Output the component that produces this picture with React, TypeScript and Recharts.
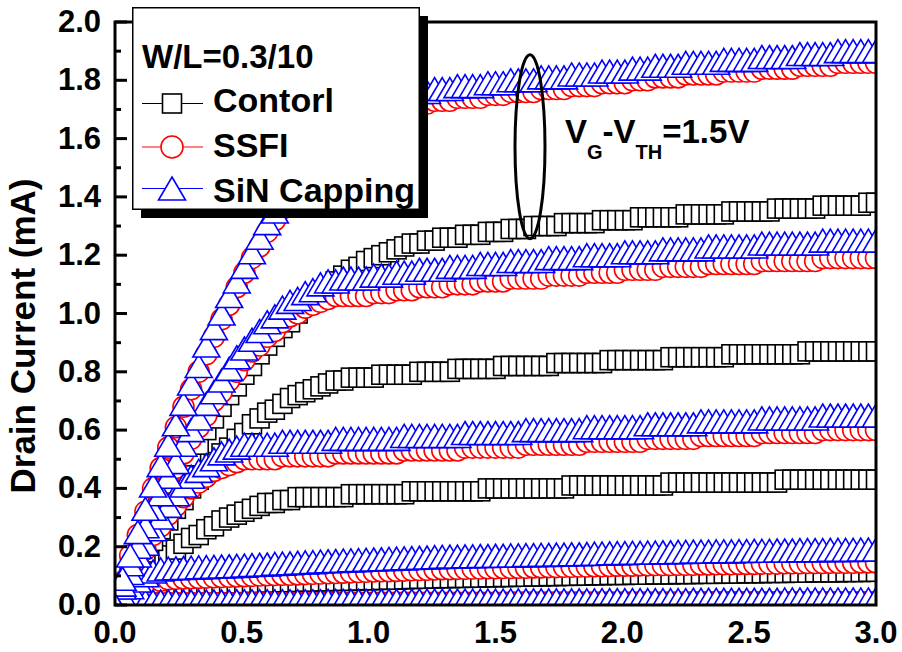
import React from 'react';
import { LineChart, Line, XAxis, YAxis, ReferenceArea, ReferenceDot, Legend } from 'recharts';

const FONT = '"Liberation Sans", Arial, Helvetica, sans-serif';

// drain voltage (V) sweep
const vd = [
  0, 0.03, 0.06, 0.09, 0.12, 0.15, 0.18, 0.21, 0.24, 0.27,
  0.3, 0.33, 0.36, 0.39, 0.42, 0.45, 0.48, 0.51, 0.54, 0.57,
  0.6, 0.63, 0.66, 0.69, 0.72, 0.75, 0.78, 0.81, 0.84, 0.87,
  0.9, 0.93, 0.96, 0.99, 1.02, 1.05, 1.08, 1.11, 1.14, 1.17,
  1.2, 1.23, 1.26, 1.29, 1.32, 1.35, 1.38, 1.41, 1.44, 1.47,
  1.5, 1.53, 1.56, 1.59, 1.62, 1.65, 1.68, 1.71, 1.74, 1.77,
  1.8, 1.83, 1.86, 1.89, 1.92, 1.95, 1.98, 2.01, 2.04, 2.07,
  2.1, 2.13, 2.16, 2.19, 2.22, 2.25, 2.28, 2.31, 2.34, 2.37,
  2.4, 2.43, 2.46, 2.49, 2.52, 2.55, 2.58, 2.61, 2.64, 2.67,
  2.7, 2.73, 2.76, 2.79, 2.82, 2.85, 2.88, 2.91, 2.94, 2.97,
  3.0,
];

// Control (black squares), mA
const control1 = [
  0, 0.06, 0.11, 0.17, 0.22, 0.27, 0.32, 0.37, 0.42, 0.47,
  0.51, 0.55, 0.60, 0.64, 0.68, 0.72, 0.75, 0.79, 0.82, 0.86,
  0.89, 0.92, 0.95, 0.97, 1.00, 1.03, 1.05, 1.07, 1.09, 1.11,
  1.13, 1.15, 1.16, 1.18, 1.19, 1.20, 1.21, 1.22, 1.23, 1.24,
  1.24, 1.25, 1.25, 1.26, 1.26, 1.26, 1.27, 1.27, 1.27, 1.28,
  1.28, 1.28, 1.29, 1.29, 1.29, 1.30, 1.30, 1.30, 1.30, 1.31,
  1.31, 1.31, 1.31, 1.31, 1.32, 1.32, 1.32, 1.32, 1.32, 1.33,
  1.33, 1.33, 1.33, 1.33, 1.33, 1.34, 1.34, 1.34, 1.34, 1.34,
  1.34, 1.35, 1.35, 1.35, 1.35, 1.35, 1.35, 1.36, 1.36, 1.36,
  1.36, 1.36, 1.36, 1.37, 1.37, 1.37, 1.37, 1.37, 1.37, 1.38,
  1.38,
];
const control2 = [
  0, 0.05, 0.09, 0.13, 0.18, 0.22, 0.26, 0.29, 0.33, 0.36,
  0.40, 0.43, 0.46, 0.49, 0.52, 0.54, 0.57, 0.59, 0.62, 0.64,
  0.66, 0.67, 0.69, 0.71, 0.72, 0.73, 0.74, 0.75, 0.76, 0.77,
  0.77, 0.78, 0.78, 0.78, 0.78, 0.79, 0.79, 0.79, 0.79, 0.79,
  0.80, 0.80, 0.80, 0.80, 0.80, 0.81, 0.81, 0.81, 0.81, 0.81,
  0.81, 0.82, 0.82, 0.82, 0.82, 0.82, 0.82, 0.82, 0.83, 0.83,
  0.83, 0.83, 0.83, 0.83, 0.83, 0.84, 0.84, 0.84, 0.84, 0.84,
  0.84, 0.84, 0.84, 0.85, 0.85, 0.85, 0.85, 0.85, 0.85, 0.85,
  0.85, 0.86, 0.86, 0.86, 0.86, 0.86, 0.86, 0.86, 0.86, 0.86,
  0.86, 0.87, 0.87, 0.87, 0.87, 0.87, 0.87, 0.87, 0.87, 0.87,
  0.87,
];
const control3 = [
  0, 0.03, 0.05, 0.08, 0.10, 0.13, 0.15, 0.17, 0.19, 0.21,
  0.23, 0.24, 0.26, 0.27, 0.29, 0.30, 0.31, 0.32, 0.33, 0.34,
  0.35, 0.35, 0.36, 0.36, 0.37, 0.37, 0.37, 0.37, 0.37, 0.37,
  0.37, 0.38, 0.38, 0.38, 0.38, 0.38, 0.38, 0.38, 0.38, 0.39,
  0.39, 0.39, 0.39, 0.39, 0.39, 0.39, 0.39, 0.39, 0.39, 0.40,
  0.40, 0.40, 0.40, 0.40, 0.40, 0.40, 0.40, 0.40, 0.40, 0.40,
  0.41, 0.41, 0.41, 0.41, 0.41, 0.41, 0.41, 0.41, 0.41, 0.41,
  0.41, 0.41, 0.41, 0.42, 0.42, 0.42, 0.42, 0.42, 0.42, 0.42,
  0.42, 0.42, 0.42, 0.42, 0.42, 0.42, 0.42, 0.42, 0.43, 0.43,
  0.43, 0.43, 0.43, 0.43, 0.43, 0.43, 0.43, 0.43, 0.43, 0.43,
  0.43,
];
const control4 = [
  0, 0.013, 0.025, 0.036, 0.045, 0.053, 0.059, 0.064, 0.067, 0.069,
  0.070, 0.071, 0.072, 0.072, 0.073, 0.074, 0.074, 0.075, 0.076, 0.076,
  0.077, 0.077, 0.078, 0.078, 0.079, 0.080, 0.080, 0.081, 0.081, 0.082,
  0.083, 0.083, 0.084, 0.085, 0.085, 0.086, 0.087, 0.087, 0.088, 0.089,
  0.090, 0.090, 0.091, 0.092, 0.092, 0.093, 0.093, 0.094, 0.094, 0.095,
  0.095, 0.096, 0.096, 0.097, 0.097, 0.098, 0.098, 0.099, 0.099, 0.100,
  0.100, 0.101, 0.101, 0.102, 0.102, 0.103, 0.103, 0.103, 0.104, 0.104,
  0.104, 0.105, 0.105, 0.105, 0.106, 0.106, 0.106, 0.107, 0.107, 0.107,
  0.108, 0.108, 0.108, 0.109, 0.109, 0.109, 0.110, 0.110, 0.110, 0.111,
  0.111, 0.111, 0.112, 0.112, 0.112, 0.112, 0.113, 0.113, 0.113, 0.114,
  0.114,
];
const control5 = [
  0, 0.002, 0.003, 0.004, 0.004, 0.004, 0.004, 0.004, 0.004, 0.004,
  0.004, 0.004, 0.004, 0.004, 0.004, 0.004, 0.004, 0.004, 0.004, 0.004,
  0.004, 0.004, 0.004, 0.004, 0.004, 0.004, 0.004, 0.004, 0.004, 0.004,
  0.004, 0.004, 0.004, 0.004, 0.004, 0.004, 0.005, 0.005, 0.005, 0.005,
  0.005, 0.005, 0.005, 0.005, 0.005, 0.005, 0.005, 0.005, 0.005, 0.005,
  0.005, 0.005, 0.005, 0.005, 0.005, 0.005, 0.005, 0.005, 0.005, 0.005,
  0.005, 0.005, 0.005, 0.005, 0.005, 0.005, 0.005, 0.005, 0.006, 0.006,
  0.006, 0.006, 0.006, 0.006, 0.006, 0.006, 0.006, 0.006, 0.006, 0.006,
  0.006, 0.006, 0.006, 0.006, 0.006, 0.006, 0.006, 0.006, 0.006, 0.006,
  0.006, 0.006, 0.006, 0.006, 0.006, 0.006, 0.006, 0.006, 0.006, 0.006,
  0.006,
];

// SSFI (red circles), mA
const ssfi1 = [
  0, 0.08, 0.17, 0.24, 0.32, 0.40, 0.47, 0.54, 0.61, 0.68,
  0.74, 0.80, 0.86, 0.92, 0.98, 1.03, 1.09, 1.14, 1.19, 1.23,
  1.28, 1.32, 1.36, 1.40, 1.43, 1.46, 1.50, 1.53, 1.55, 1.58,
  1.60, 1.62, 1.64, 1.66, 1.67, 1.69, 1.70, 1.71, 1.71, 1.72,
  1.72, 1.72, 1.73, 1.73, 1.73, 1.74, 1.74, 1.74, 1.74, 1.75,
  1.75, 1.75, 1.76, 1.76, 1.76, 1.76, 1.77, 1.77, 1.77, 1.77,
  1.78, 1.78, 1.78, 1.78, 1.79, 1.79, 1.79, 1.79, 1.80, 1.80,
  1.80, 1.81, 1.81, 1.81, 1.81, 1.82, 1.82, 1.82, 1.82, 1.82,
  1.83, 1.83, 1.83, 1.83, 1.83, 1.84, 1.84, 1.84, 1.84, 1.84,
  1.85, 1.85, 1.85, 1.85, 1.85, 1.86, 1.86, 1.86, 1.86, 1.86,
  1.86,
];
const ssfi2 = [
  0, 0.07, 0.13, 0.19, 0.25, 0.31, 0.37, 0.42, 0.47, 0.52,
  0.57, 0.61, 0.65, 0.70, 0.73, 0.77, 0.80, 0.84, 0.87, 0.89,
  0.92, 0.94, 0.97, 0.99, 1.00, 1.02, 1.03, 1.04, 1.05, 1.06,
  1.06, 1.06, 1.06, 1.06, 1.07, 1.07, 1.07, 1.08, 1.08, 1.08,
  1.09, 1.09, 1.09, 1.09, 1.10, 1.10, 1.10, 1.10, 1.11, 1.11,
  1.11, 1.11, 1.12, 1.12, 1.12, 1.12, 1.12, 1.13, 1.13, 1.13,
  1.13, 1.13, 1.14, 1.14, 1.14, 1.14, 1.14, 1.15, 1.15, 1.15,
  1.15, 1.15, 1.16, 1.16, 1.16, 1.16, 1.16, 1.16, 1.17, 1.17,
  1.17, 1.17, 1.17, 1.17, 1.17, 1.18, 1.18, 1.18, 1.18, 1.18,
  1.18, 1.18, 1.18, 1.19, 1.19, 1.19, 1.19, 1.19, 1.19, 1.19,
  1.19,
];
const ssfi3 = [
  0, 0.05, 0.10, 0.15, 0.19, 0.24, 0.27, 0.31, 0.34, 0.37,
  0.40, 0.42, 0.44, 0.46, 0.47, 0.48, 0.49, 0.50, 0.50, 0.50,
  0.50, 0.50, 0.51, 0.51, 0.51, 0.51, 0.51, 0.51, 0.51, 0.52,
  0.52, 0.52, 0.52, 0.52, 0.52, 0.52, 0.52, 0.52, 0.53, 0.53,
  0.53, 0.53, 0.53, 0.53, 0.53, 0.53, 0.54, 0.54, 0.54, 0.54,
  0.54, 0.54, 0.54, 0.54, 0.55, 0.55, 0.55, 0.55, 0.55, 0.55,
  0.55, 0.55, 0.56, 0.56, 0.56, 0.56, 0.56, 0.56, 0.56, 0.56,
  0.57, 0.57, 0.57, 0.57, 0.57, 0.57, 0.57, 0.58, 0.58, 0.58,
  0.58, 0.58, 0.58, 0.58, 0.58, 0.59, 0.59, 0.59, 0.59, 0.59,
  0.59, 0.59, 0.59, 0.60, 0.60, 0.60, 0.60, 0.60, 0.60, 0.60,
  0.60,
];
const ssfi4 = [
  0, 0.020, 0.038, 0.053, 0.066, 0.076, 0.083, 0.088, 0.090, 0.091,
  0.092, 0.093, 0.094, 0.095, 0.096, 0.097, 0.098, 0.099, 0.100, 0.101,
  0.102, 0.103, 0.104, 0.104, 0.105, 0.106, 0.107, 0.108, 0.109, 0.110,
  0.111, 0.112, 0.113, 0.114, 0.115, 0.116, 0.116, 0.117, 0.118, 0.119,
  0.120, 0.121, 0.122, 0.123, 0.123, 0.124, 0.124, 0.125, 0.125, 0.126,
  0.126, 0.127, 0.127, 0.128, 0.128, 0.129, 0.129, 0.130, 0.130, 0.131,
  0.131, 0.132, 0.132, 0.133, 0.133, 0.134, 0.135, 0.135, 0.135, 0.136,
  0.136, 0.137, 0.137, 0.137, 0.138, 0.138, 0.138, 0.139, 0.139, 0.140,
  0.140, 0.140, 0.141, 0.141, 0.141, 0.142, 0.142, 0.142, 0.143, 0.143,
  0.143, 0.144, 0.144, 0.144, 0.145, 0.145, 0.145, 0.145, 0.146, 0.146,
  0.146,
];
const ssfi5 = [
  0, 0.004, 0.006, 0.007, 0.007, 0.007, 0.007, 0.007, 0.007, 0.007,
  0.007, 0.007, 0.007, 0.007, 0.007, 0.007, 0.007, 0.007, 0.007, 0.007,
  0.007, 0.007, 0.007, 0.007, 0.007, 0.007, 0.007, 0.007, 0.008, 0.008,
  0.008, 0.008, 0.008, 0.008, 0.008, 0.008, 0.008, 0.008, 0.008, 0.008,
  0.008, 0.008, 0.008, 0.008, 0.008, 0.008, 0.008, 0.008, 0.008, 0.008,
  0.008, 0.008, 0.009, 0.009, 0.009, 0.009, 0.009, 0.009, 0.009, 0.009,
  0.009, 0.009, 0.009, 0.009, 0.009, 0.009, 0.009, 0.009, 0.009, 0.009,
  0.009, 0.009, 0.009, 0.009, 0.009, 0.009, 0.010, 0.010, 0.010, 0.010,
  0.010, 0.010, 0.010, 0.010, 0.010, 0.010, 0.010, 0.010, 0.010, 0.010,
  0.010, 0.010, 0.010, 0.010, 0.010, 0.010, 0.010, 0.010, 0.010, 0.010,
  0.010,
];

// SiN Capping (blue triangles), mA
const sin1 = [
  0, 0.09, 0.17, 0.25, 0.33, 0.41, 0.48, 0.55, 0.62, 0.69,
  0.76, 0.82, 0.89, 0.95, 1.00, 1.06, 1.11, 1.16, 1.21, 1.26,
  1.31, 1.35, 1.39, 1.43, 1.46, 1.50, 1.53, 1.56, 1.59, 1.61,
  1.64, 1.66, 1.68, 1.70, 1.71, 1.73, 1.74, 1.75, 1.75, 1.76,
  1.76, 1.76, 1.77, 1.77, 1.77, 1.78, 1.78, 1.78, 1.78, 1.79,
  1.79, 1.79, 1.80, 1.80, 1.80, 1.80, 1.81, 1.81, 1.81, 1.81,
  1.82, 1.82, 1.82, 1.82, 1.83, 1.83, 1.83, 1.83, 1.84, 1.84,
  1.84, 1.85, 1.85, 1.85, 1.85, 1.86, 1.86, 1.86, 1.86, 1.86,
  1.87, 1.87, 1.87, 1.87, 1.87, 1.88, 1.88, 1.88, 1.88, 1.88,
  1.89, 1.89, 1.89, 1.89, 1.89, 1.90, 1.90, 1.90, 1.90, 1.90,
  1.90,
];
const sin2 = [
  0, 0.07, 0.14, 0.20, 0.27, 0.33, 0.38, 0.44, 0.49, 0.55,
  0.60, 0.64, 0.69, 0.73, 0.77, 0.81, 0.85, 0.88, 0.91, 0.94,
  0.97, 0.99, 1.02, 1.04, 1.05, 1.07, 1.08, 1.10, 1.11, 1.11,
  1.12, 1.12, 1.12, 1.12, 1.13, 1.13, 1.13, 1.14, 1.14, 1.14,
  1.15, 1.15, 1.15, 1.15, 1.16, 1.16, 1.16, 1.16, 1.17, 1.17,
  1.17, 1.17, 1.18, 1.18, 1.18, 1.18, 1.18, 1.19, 1.19, 1.19,
  1.19, 1.19, 1.20, 1.20, 1.20, 1.20, 1.20, 1.21, 1.21, 1.21,
  1.21, 1.21, 1.22, 1.22, 1.22, 1.22, 1.22, 1.22, 1.23, 1.23,
  1.23, 1.23, 1.23, 1.23, 1.23, 1.24, 1.24, 1.24, 1.24, 1.24,
  1.24, 1.24, 1.24, 1.25, 1.25, 1.25, 1.25, 1.25, 1.25, 1.25,
  1.25,
];
const sin3 = [
  0, 0.06, 0.11, 0.17, 0.21, 0.26, 0.30, 0.34, 0.38, 0.41,
  0.44, 0.46, 0.48, 0.50, 0.52, 0.53, 0.54, 0.55, 0.55, 0.55,
  0.55, 0.55, 0.56, 0.56, 0.56, 0.56, 0.56, 0.56, 0.56, 0.57,
  0.57, 0.57, 0.57, 0.57, 0.57, 0.57, 0.57, 0.57, 0.58, 0.58,
  0.58, 0.58, 0.58, 0.58, 0.58, 0.58, 0.59, 0.59, 0.59, 0.59,
  0.59, 0.59, 0.59, 0.59, 0.60, 0.60, 0.60, 0.60, 0.60, 0.60,
  0.60, 0.60, 0.61, 0.61, 0.61, 0.61, 0.61, 0.61, 0.61, 0.61,
  0.62, 0.62, 0.62, 0.62, 0.62, 0.62, 0.62, 0.63, 0.63, 0.63,
  0.63, 0.63, 0.63, 0.63, 0.63, 0.64, 0.64, 0.64, 0.64, 0.64,
  0.64, 0.64, 0.64, 0.65, 0.65, 0.65, 0.65, 0.65, 0.65, 0.65,
  0.65,
];
const sin4 = [
  0, 0.033, 0.061, 0.084, 0.102, 0.115, 0.122, 0.125, 0.126, 0.127,
  0.128, 0.129, 0.130, 0.131, 0.132, 0.133, 0.134, 0.135, 0.137, 0.138,
  0.139, 0.141, 0.142, 0.143, 0.145, 0.146, 0.147, 0.149, 0.150, 0.151,
  0.152, 0.153, 0.154, 0.155, 0.156, 0.157, 0.158, 0.159, 0.160, 0.161,
  0.162, 0.163, 0.164, 0.165, 0.166, 0.166, 0.167, 0.167, 0.168, 0.168,
  0.169, 0.169, 0.170, 0.170, 0.171, 0.171, 0.172, 0.172, 0.173, 0.173,
  0.174, 0.174, 0.175, 0.176, 0.176, 0.177, 0.178, 0.178, 0.179, 0.179,
  0.180, 0.180, 0.181, 0.181, 0.182, 0.182, 0.183, 0.183, 0.183, 0.184,
  0.184, 0.184, 0.185, 0.185, 0.186, 0.186, 0.186, 0.187, 0.187, 0.187,
  0.188, 0.188, 0.188, 0.188, 0.189, 0.189, 0.189, 0.189, 0.190, 0.190,
  0.190,
];
const sin5 = [
  0, 0.007, 0.011, 0.012, 0.012, 0.012, 0.012, 0.012, 0.012, 0.012,
  0.012, 0.012, 0.012, 0.012, 0.012, 0.012, 0.013, 0.013, 0.013, 0.013,
  0.013, 0.013, 0.013, 0.013, 0.013, 0.013, 0.013, 0.013, 0.014, 0.014,
  0.014, 0.014, 0.014, 0.014, 0.014, 0.014, 0.014, 0.014, 0.014, 0.014,
  0.015, 0.015, 0.015, 0.015, 0.015, 0.015, 0.015, 0.015, 0.015, 0.015,
  0.015, 0.015, 0.016, 0.016, 0.016, 0.016, 0.016, 0.016, 0.016, 0.016,
  0.016, 0.016, 0.016, 0.016, 0.017, 0.017, 0.017, 0.017, 0.017, 0.017,
  0.017, 0.017, 0.017, 0.017, 0.017, 0.017, 0.018, 0.018, 0.018, 0.018,
  0.018, 0.018, 0.018, 0.018, 0.018, 0.018, 0.018, 0.018, 0.019, 0.019,
  0.019, 0.019, 0.019, 0.019, 0.019, 0.019, 0.019, 0.019, 0.019, 0.019,
  0.020,
];

const xTicks = [0, 0.5, 1.0, 1.5, 2.0, 2.5, 3.0];
const yTicks = [
  0, 0.1, 0.2, 0.3, 0.4, 0.5, 0.6, 0.7, 0.8, 0.9, 1.0,
  1.1, 1.2, 1.3, 1.4, 1.5, 1.6, 1.7, 1.8, 1.9, 2.0,
];
const legendNames = ['Contorl', 'SSFI', 'SiN Capping'];

const rows = vd.map((v, i) => ({
  v,
  c1: control1[i], c2: control2[i], c3: control3[i], c4: control4[i], c5: control5[i],
  s1: ssfi1[i], s2: ssfi2[i], s3: ssfi3[i], s4: ssfi4[i], s5: ssfi5[i],
  n1: sin1[i], n2: sin2[i], n3: sin3[i], n4: sin4[i], n5: sin5[i],
}));

const BLACK = '#000000';
const RED = '#ff0000';
const BLUE = '#0000ff';

const squareDot = (p: any) => {
  if (p.cx == null || p.cy == null) return <g key={`sq-${p.index}`} />;
  return (
    <rect key={`sq-${p.index}`} x={p.cx - 9.5} y={p.cy - 9.5} width={19} height={19}
      fill="#fff" stroke={BLACK} strokeWidth={1.6} />
  );
};
const circleDot = (p: any) => {
  if (p.cx == null || p.cy == null) return <g key={`ci-${p.index}`} />;
  return <circle key={`ci-${p.index}`} cx={p.cx} cy={p.cy} r={10.5} fill="#fff" stroke={RED} strokeWidth={1.6} />;
};
const triPath = (cx: number, cy: number) =>
  `M${cx},${cy - 11.5}L${cx + 13.5},${cy + 11.5}L${cx - 13.5},${cy + 11.5}Z`;
const triangleDot = (p: any) => {
  if (p.cx == null || p.cy == null) return <g key={`tr-${p.index}`} />;
  return <path key={`tr-${p.index}`} d={triPath(p.cx, p.cy)} fill="#fff" stroke={BLUE} strokeWidth={1.6} />;
};

const series = [
  { key: 'c5', color: BLACK, dot: squareDot },
  { key: 'c4', color: BLACK, dot: squareDot },
  { key: 'c3', color: BLACK, dot: squareDot },
  { key: 'c2', color: BLACK, dot: squareDot },
  { key: 'c1', color: BLACK, dot: squareDot },
  { key: 's5', color: RED, dot: circleDot },
  { key: 's4', color: RED, dot: circleDot },
  { key: 's3', color: RED, dot: circleDot },
  { key: 's2', color: RED, dot: circleDot },
  { key: 's1', color: RED, dot: circleDot },
  { key: 'n5', color: BLUE, dot: triangleDot },
  { key: 'n4', color: BLUE, dot: triangleDot },
  { key: 'n3', color: BLUE, dot: triangleDot },
  { key: 'n2', color: BLUE, dot: triangleDot },
  { key: 'n1', color: BLUE, dot: triangleDot },
];

const YTick = (p: any) => {
  const v = p.payload.value;
  const major = Math.round(v * 10) % 2 === 0;
  return (
    <g>
      <line x1={p.x} x2={p.x + (major ? 12 : 6)} y1={p.y} y2={p.y} stroke={BLACK} strokeWidth={3} />
      {major && (
        <text x={p.x - 14} y={p.y + 10} textAnchor="end" fontFamily={FONT} fontWeight="bold" fontSize={31} fill={BLACK}>
          {v.toFixed(1)}
        </text>
      )}
    </g>
  );
};

const XTick = (p: any) => (
  <text x={p.x} y={p.y + 38} textAnchor="middle" fontFamily={FONT} fontWeight="bold" fontSize={31} fill={BLACK}>
    {Number(p.payload.value).toFixed(1)}
  </text>
);

const YTitle = () => (
  <text transform="translate(35,336) rotate(-90)" textAnchor="middle" fontFamily={FONT} fontWeight="bold" fontSize={35} fill={BLACK}>
    Drain Current (mA)
  </text>
);

const LegendBox = () => {
  const symbols = [
    <rect key="sq" x={30.5} y={87} width={19} height={19} fill="#fff" stroke={BLACK} strokeWidth={1.6} />,
    <circle key="ci" cx={40} cy={140} r={11} fill="#fff" stroke={RED} strokeWidth={1.6} />,
    <path key="tr" d={triPath(40, 181.5)} fill="#fff" stroke={BLUE} strokeWidth={1.6} />,
  ];
  const lineY = [96.5, 140, 181.5];
  const colors = [BLACK, RED, BLUE];
  const textY = [105, 149.5, 194.5];
  return (
    <svg width={300} height={215} style={{ display: 'block', overflow: 'visible' }}>
      <rect x={9} y={9} width={287} height={202} fill={BLACK} />
      <rect x={0.75} y={0.75} width={286.5} height={201.5} fill="#fff" stroke={BLACK} strokeWidth={1.5} />
      <text x={10} y={61} fontFamily={FONT} fontWeight="bold" fontSize={33} fill={BLACK}>W/L=0.3/10</text>
      {legendNames.map((name, i) => (
        <g key={name}>
          <line x1={10} x2={71} y1={lineY[i]} y2={lineY[i]} stroke={colors[i]} strokeWidth={1} />
          {symbols[i]}
          <text x={81} y={textY[i]} fontFamily={FONT} fontWeight="bold" fontSize={34} fill={BLACK}>{name}</text>
        </g>
      ))}
    </svg>
  );
};

const Ellipse = (p: any) => (
  <ellipse cx={p.cx} cy={p.cy} rx={15} ry={92} fill="none" stroke={BLACK} strokeWidth={3} />
);

const Overdrive = (p: any) => (
  <text x={p.cx} y={p.cy} fontFamily={FONT} fontWeight="bold" fontSize={33} fill={BLACK}>
    V
    <tspan dy={16} fontSize={20}>G</tspan>
    <tspan dy={-16}>-V</tspan>
    <tspan dy={16} fontSize={20}>TH</tspan>
    <tspan dy={-16}>=1.5V</tspan>
  </text>
);

export default function App() {
  return (
    <div style={{ position: 'absolute', left: 0, top: 0, width: 902, height: 652, background: '#fff' }}>
      <LineChart width={902} height={652} data={rows} margin={{ top: 22, right: 26, bottom: 0, left: 0 }}>
        <XAxis
          dataKey="v"
          type="number"
          domain={[0, 3]}
          ticks={xTicks}
          interval={0}
          allowDataOverflow
          axisLine={false}
          tickLine={false}
          tickSize={0}
          tickMargin={0}
          height={47}
          tick={<XTick />}
        />
        <YAxis
          type="number"
          domain={[0, 2]}
          ticks={yTicks}
          interval={0}
          allowDataOverflow
          axisLine={false}
          tickLine={false}
          tickSize={0}
          tickMargin={0}
          width={115}
          tick={<YTick />}
          label={<YTitle />}
        />
        {series.map((s) => (
          <Line
            key={s.key}
            dataKey={s.key}
            type="linear"
            stroke={s.color}
            strokeWidth={1}
            dot={s.dot}
            activeDot={false}
            isAnimationActive={false}
          />
        ))}
        <ReferenceArea x1={0} x2={3} y1={0} y2={2} fill="none" fillOpacity={0} stroke={BLACK} strokeWidth={3} ifOverflow="visible" zIndex={1500} />
        <ReferenceDot x={1.636} y={1.572} shape={Ellipse} ifOverflow="visible" zIndex={1600} />
        <ReferenceDot x={1.774} y={1.585} shape={Overdrive} ifOverflow="visible" zIndex={1600} />
        <Legend
          layout="vertical"
          align="center"
          verticalAlign="middle"
          content={() => <LegendBox />}
          wrapperStyle={{ position: 'absolute', left: 132, top: 7, width: 300, height: 215 }}
        />
      </LineChart>
    </div>
  );
}
